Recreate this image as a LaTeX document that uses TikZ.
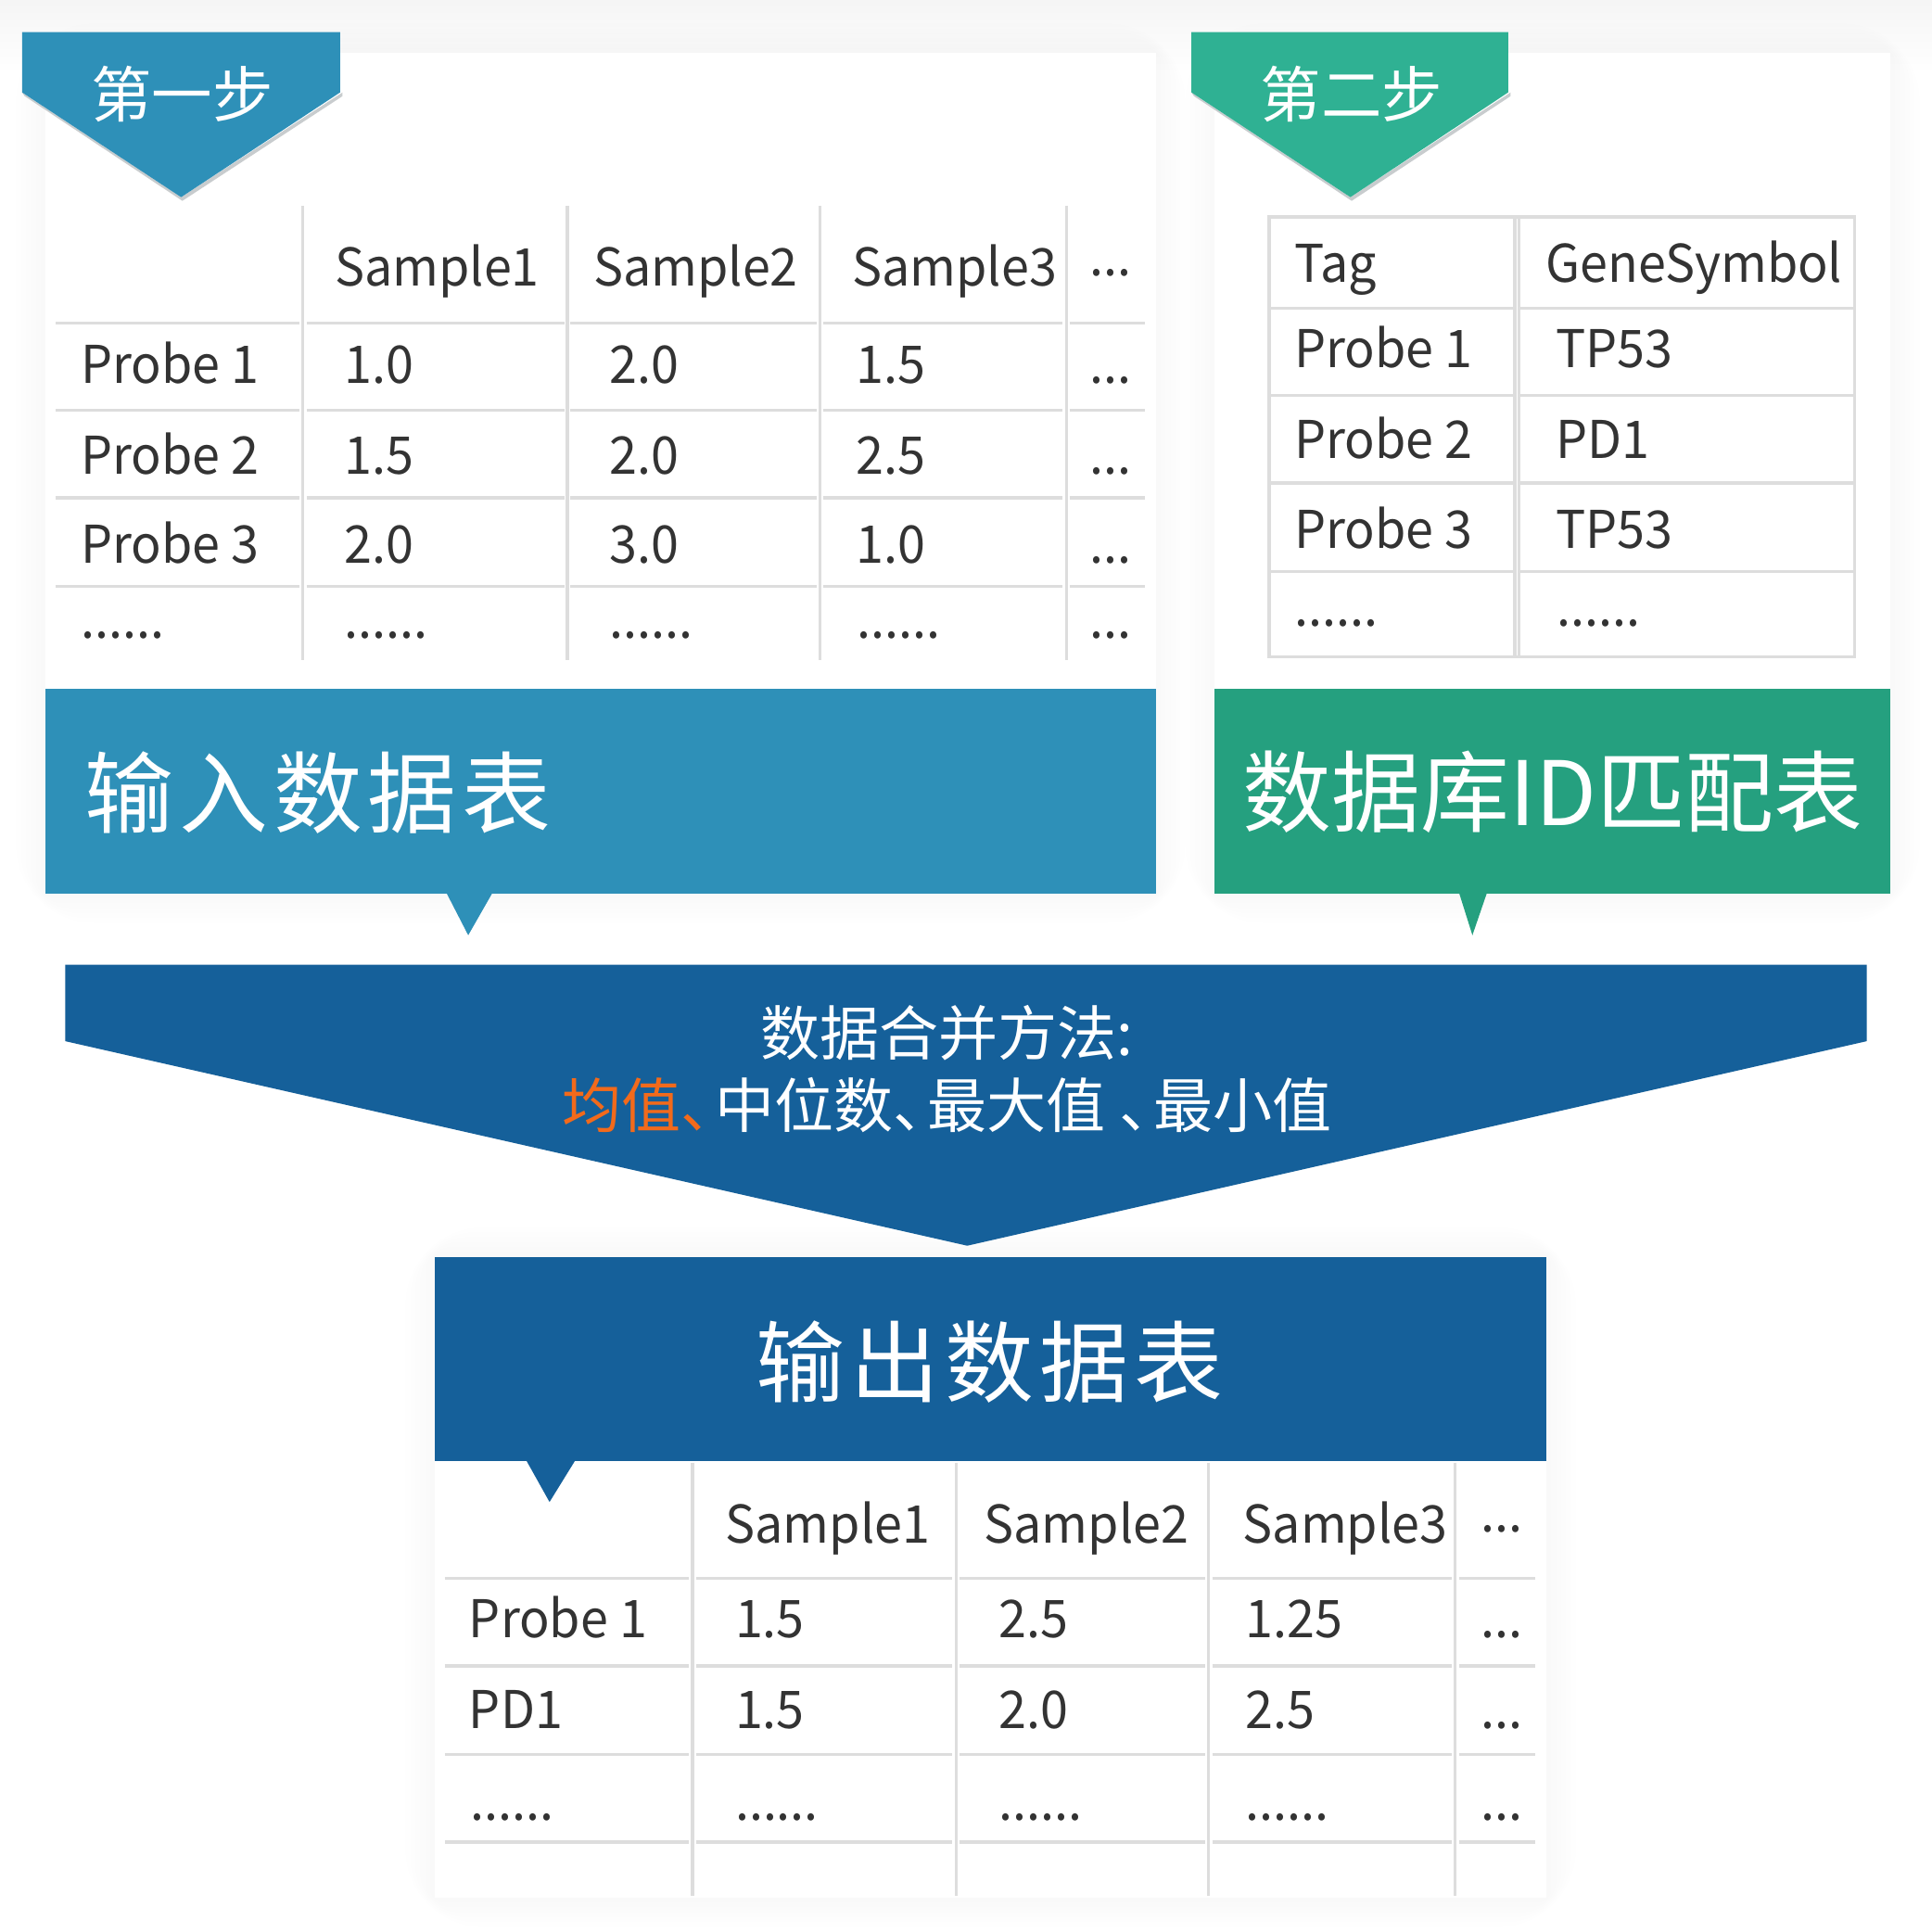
\documentclass[tikz,border=0pt]{standalone}
\usepackage{fontspec}
\setmainfont{Noto Sans CJK SC}
\newfontfamily\cellfont[FakeStretch=0.96]{Noto Sans CJK SC}
\usetikzlibrary{calc}
\definecolor{stepblue}{HTML}{2E90B8}
\definecolor{stepteal}{HTML}{2FB193}
\definecolor{bandteal}{HTML}{25A07F}
\definecolor{deepblue}{HTML}{15609A}
\definecolor{accent}{HTML}{F26A1B}
\definecolor{txt}{HTML}{333333}
\definecolor{rule}{HTML}{DDDDDD}
\definecolor{tagshade}{HTML}{C8CCCE}
\newcommand{\softshade}[4]{%
  \foreach \k in {1,...,6}{%
    \fill[black,opacity=0.0045,rounded corners=\k*3] ($(#1,#2)+(-\k*4,-\k*4)$) rectangle ($(#3,#4)+(\k*4,\k*4)$);}}
% a raised ellipsis for the header rows
\newcommand{\hdots}{\raisebox{0.2em}{...}}
% tracked characters for the band titles
\newcommand{\tr}{\kern1.3pt}
\newcommand{\dun}{、\kern-0.42em}
\tikzset{
  cell/.style={inner sep=0pt,anchor=base west,text=txt,font=\cellfont\fontsize{12}{14}\selectfont},
  grid/.style={draw=rule,line width=0.7pt},
  bigcap/.style={inner sep=0pt,text=white,font=\fontsize{20.5}{24}\selectfont},
  tagcap/.style={inner sep=0pt,text=white,font=\fontsize{14}{16}\selectfont},
  mergecap/.style={inner sep=0pt,text=white,font=\fontsize{13.7}{16}\selectfont},
}
\begin{document}
\begin{tikzpicture}[x=0.01cm,y=-0.01cm]
\useasboundingbox (0,0) rectangle (1568,1568);
\fill[white] (0,0) rectangle (1568,1568);
% faint grey haze fading down from the top edge
\shade[top color=black!4,bottom color=white] (0,0) rectangle (1568,60);

% soft shadows behind the panels
\softshade{37}{43}{938}{725}
\softshade{986}{43}{1534}{725}
\softshade{353}{1020}{1255}{1540}

% ---------- step one panel ----------
\fill[white] (37,43) rectangle (938,560);
\fill[stepblue] (37,559) rectangle (938,725);
\fill[stepblue] (362,724) -- (400,724) -- (380,759) -- cycle;
\node[bigcap,anchor=west] (inTitle) at (68,643) {输\tr 入\tr 数\tr 据\tr 表};

\fill[tagshade] (20,78) -- (148,163) -- (278,78) -- (278,75) -- (147,160) -- (18,75) -- cycle;
\fill[stepblue] (18,26) -- (276,26) -- (276,75) -- (147,160) -- (18,75) -- cycle;
\node[tagcap] (stepOne) at (148,76) {第一步};

% grid of the input table
\foreach \x in {245.5,460.5,665.5,865.5}{\draw[grid] (\x,167) -- (\x,536);}
\foreach \y in {262,333,404,476}{
  \foreach \a/\b in {45/243,249/458,463/663,668/862,868/929}{\draw[grid] (\a,\y) -- (\b,\y);}}

\node[cell] (h1) at (271,232) {Sample1};
\node[cell] (h2) at (481,232) {Sample2};
\node[cell] (h3) at (691,232) {Sample3};
\node[cell] (h4) at (884,232) {\hdots};

\node[cell] (r1a) at (65,311) {Probe 1};
\node[cell] (r1b) at (279,311) {1.0};
\node[cell] (r1c) at (494,311) {2.0};
\node[cell] (r1d) at (694,311) {1.5};
\node[cell] (r1e) at (884,311) {...};

\node[cell] (r2a) at (65,385) {Probe 2};
\node[cell] (r2b) at (279,385) {1.5};
\node[cell] (r2c) at (494,385) {2.0};
\node[cell] (r2d) at (694,385) {2.5};
\node[cell] (r2e) at (884,385) {...};

\node[cell] (r3a) at (65,457) {Probe 3};
\node[cell] (r3b) at (279,457) {2.0};
\node[cell] (r3c) at (494,457) {3.0};
\node[cell] (r3d) at (694,457) {1.0};
\node[cell] (r3e) at (884,457) {...};

\node[cell] (r4a) at (65,518) {......};
\node[cell] (r4b) at (279,518) {......};
\node[cell] (r4c) at (494,518) {......};
\node[cell] (r4d) at (695,518) {......};
\node[cell] (r4e) at (884,518) {...};

% ---------- step two panel ----------
\fill[white] (986,43) rectangle (1534,560);
\fill[bandteal] (986,559) rectangle (1534,725);
\fill[bandteal] (1184,724) -- (1207,724) -- (1195,759) -- cycle;
\node[bigcap,anchor=west] (idTitle) at (1008,643) {数据库ID匹配表};

\fill[tagshade] (969,78) -- (1097,163) -- (1226,78) -- (1226,75) -- (1096,160) -- (967,75) -- cycle;
\fill[stepteal] (967,26) -- (1224,26) -- (1224,75) -- (1096,160) -- (967,75) -- cycle;
\node[tagcap] (stepTwo) at (1097,76) {第二步};

% grid of the ID mapping table
\draw[grid] (1030,176) rectangle (1505,533);
\draw[grid] (1229.5,176) -- (1229.5,533);
\draw[grid] (1233,176) -- (1233,533);
\foreach \y in {250,321,392,464}{
  \draw[grid] (1030,\y) -- (1228,\y);
  \draw[grid] (1234,\y) -- (1505,\y);}

\node[cell] (t0a) at (1050,229) {Tag};
\node[cell] (t0b) at (1254,229) {GeneSymbol};
\node[cell] (t1a) at (1050,298) {Probe 1};
\node[cell] (t1b) at (1262,298) {TP53};
\node[cell] (t2a) at (1050,372) {Probe 2};
\node[cell] (t2b) at (1262,372) {PD1};
\node[cell] (t3a) at (1050,445) {Probe 3};
\node[cell] (t3b) at (1262,445) {TP53};
\node[cell] (t4a) at (1050,508) {......};
\node[cell] (t4b) at (1263,508) {......};

% ---------- merge step ----------
\fill[deepblue] (53,783) -- (1515,783) -- (1515,845) -- (785,1011) -- (53,845) -- cycle;
\node[mergecap] (mergeHead) at (768.5,838) {数据合并方法:};
\node[mergecap] (mergeWays) at (768.5,897) {\textcolor{accent}{均值\dun}中位数\dun 最大值 \dun 最小值};

% ---------- output panel ----------
\fill[white] (353,1185) rectangle (1255,1540);
\fill[deepblue] (353,1020) rectangle (1255,1186);
\fill[deepblue] (427,1185) -- (467,1185) -- (446,1219) -- cycle;
\node[bigcap] (outTitle) at (803,1105) {输\tr 出\tr 数\tr 据\tr 表};

\foreach \x in {562,776,981,1181}{\draw[grid] (\x,1187) -- (\x,1539);}
\foreach \y in {1281,1352,1424,1495}{
  \foreach \a/\b in {361/559,565/773,779/978,984/1178,1184/1246}{\draw[grid] (\a,\y) -- (\b,\y);}}

\node[cell] (o0b) at (588,1252) {Sample1};
\node[cell] (o0c) at (798,1252) {Sample2};
\node[cell] (o0d) at (1008,1252) {Sample3};
\node[cell] (o0e) at (1201,1252) {\hdots};

\node[cell] (o1a) at (380,1329) {Probe 1};
\node[cell] (o1b) at (596,1329) {1.5};
\node[cell] (o1c) at (810,1329) {2.5};
\node[cell] (o1d) at (1010,1329) {1.25};
\node[cell] (o1e) at (1201,1329) {...};

\node[cell] (o2a) at (380,1403) {PD1};
\node[cell] (o2b) at (596,1403) {1.5};
\node[cell] (o2c) at (810,1403) {2.0};
\node[cell] (o2d) at (1010,1403) {2.5};
\node[cell] (o2e) at (1201,1403) {...};

\node[cell] (o3a) at (381,1477) {......};
\node[cell] (o3b) at (596,1477) {......};
\node[cell] (o3c) at (810,1477) {......};
\node[cell] (o3d) at (1010,1477) {......};
\node[cell] (o3e) at (1201,1477) {...};
\end{tikzpicture}
\end{document}
